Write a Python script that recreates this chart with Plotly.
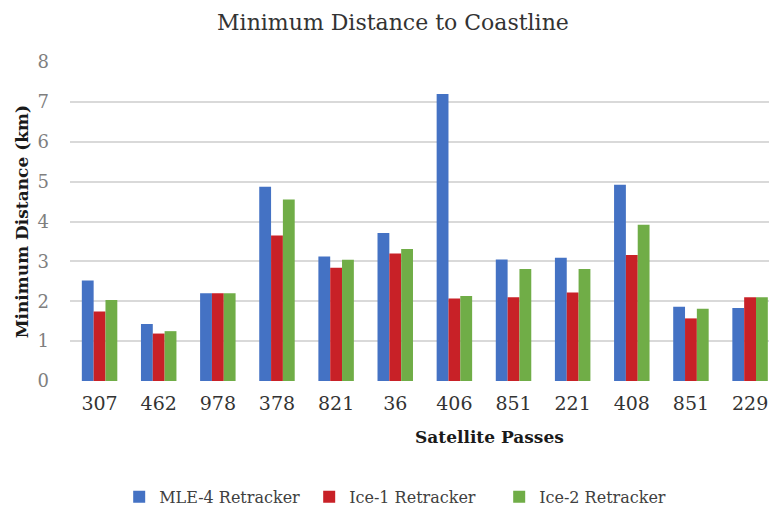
import plotly.graph_objects as go

passes = ["307", "462", "978", "378", "821", "36", "406", "851", "221", "408", "851", "229"]
mle4 = [2.52, 1.43, 2.20, 4.87, 3.12, 3.71, 7.20, 3.05, 3.09, 4.92, 1.86, 1.83]
ice1 = [1.74, 1.19, 2.20, 3.65, 2.84, 3.20, 2.07, 2.10, 2.22, 3.16, 1.57, 2.10]
ice2 = [2.03, 1.25, 2.20, 4.55, 3.04, 3.31, 2.13, 2.81, 2.81, 3.92, 1.81, 2.10]
series_names = ["MLE-4 Retracker", "Ice-1 Retracker", "Ice-2 Retracker"]
colors = ["#4472C4", "#C82127", "#70AD47"]
y_ticks = [0, 1, 2, 3, 4, 5, 6, 7, 8]

pos = list(range(len(passes)))
font_family = "DejaVu Serif"

fig = go.Figure()
for name, vals, c in zip(series_names, [mle4, ice1, ice2], colors):
    fig.add_trace(go.Bar(x=pos, y=vals, name=name, marker=dict(color=c, line=dict(width=0))))

fig.update_layout(
    width=769, height=510,
    margin=dict(l=70, r=0, t=62, b=129),
    paper_bgcolor="white", plot_bgcolor="white",
    barmode="group", bargap=0.4, bargroupgap=0.0,
    font=dict(family=font_family, color="#333333"),
    showlegend=True,
    legend=dict(orientation="h", x=0.155, xanchor="left", xref="container",
                y=0.026, yanchor="middle", yref="container",
                font=dict(size=16, color="#404040", family=font_family),
                entrywidth=145, entrywidthmode="pixels",
                traceorder="normal"),
    xaxis=dict(range=[-0.5, 11.32], tickmode="array", tickvals=pos, ticktext=passes,
               tickfont=dict(size=19, color="#333333", family=font_family),
               showgrid=False, showline=False, ticklabelstandoff=9,
               ticks="", zeroline=False),
    yaxis=dict(range=[0, 8], tickmode="array", tickvals=y_ticks,
               tickfont=dict(size=18, color="#7f7f7f", family=font_family), showgrid=True,
               gridcolor="#d9d9d9", gridwidth=1.5, zeroline=False, showline=False,
               ticks="", ticklabelstandoff=20),
    title=dict(text="Minimum Distance to Coastline", x=0.511, xanchor="center",
               y=1 - 22 / 510, yanchor="middle", yref="container",
               font=dict(size=22, color="#333333", family=font_family)),
    annotations=[
        dict(text="<b>Satellite Passes</b>", x=0.6, xref="paper", xanchor="center",
             y=-0.176, yref="paper", yanchor="middle", showarrow=False,
             font=dict(size=17, color="#1a1a1a", family=font_family)),
        dict(text="<b>Minimum Distance (km)</b>", x=-0.069, xref="paper", xanchor="center",
             y=0.5, yref="paper", yanchor="middle", textangle=-90, showarrow=False,
             font=dict(size=17, color="#1a1a1a", family=font_family)),
    ],
)
fig.write_html("out.html")
